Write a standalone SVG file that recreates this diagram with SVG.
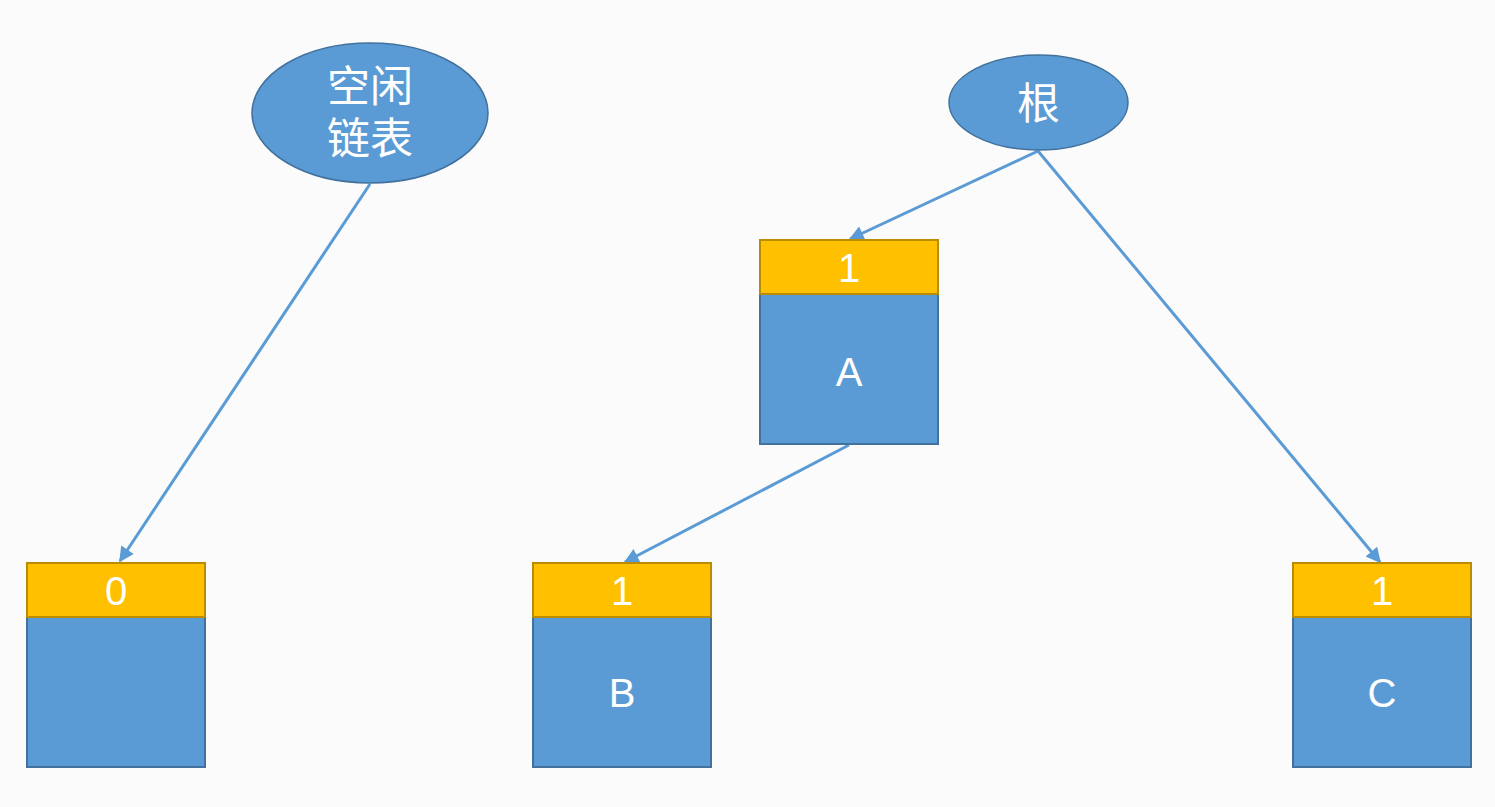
<svg xmlns="http://www.w3.org/2000/svg" width="1495" height="807" viewBox="0 0 1495 807">
<style>
.ell{fill:#5B9BD5;stroke:#41719C;stroke-width:1.5}
.hdr{fill:#FFC000;stroke:#BC8C00;stroke-width:2}
.body{fill:#5B9BD5;stroke:#41719C;stroke-width:2}
.t{fill:#FFFFFF;font-family:"Liberation Sans","Noto Sans CJK SC",sans-serif;font-size:40px;text-anchor:middle;dominant-baseline:central}
.cjk{font-size:43px}
.c{fill:none;stroke:#5B9BD5;stroke-width:3;marker-end:url(#ah)}
</style>
<defs>
<marker id="ah" viewBox="0 0 10 10" refX="9" refY="5" markerWidth="5.5" markerHeight="5" orient="auto" markerUnits="strokeWidth">
<path d="M0,0 L10,5 L0,10 z" fill="#5B9BD5"/>
</marker>
</defs>
<rect width="1495" height="807" fill="#FBFBFB"/>
<g id="connectors">
<line class="c" x1="370" y1="184" x2="120" y2="561"/>
<line class="c" x1="1038" y1="151" x2="850" y2="239"/>
<line class="c" x1="1038" y1="151" x2="1380" y2="562"/>
<line class="c" x1="849" y1="445" x2="625" y2="562"/>
</g>
<g id="freelist">
<ellipse class="ell" cx="370" cy="113" rx="118" ry="70"/>
<text class="t cjk" x="370" y="87">空闲</text>
<text class="t cjk" x="370" y="139">链表</text>
</g>
<g id="root">
<ellipse class="ell" cx="1038.5" cy="102.5" rx="89.5" ry="47.5"/>
<text class="t cjk" x="1038.5" y="104">根</text>
</g>
<g id="nodeA">
<rect class="body" x="760" y="294" width="178" height="150"/>
<rect class="hdr" x="760" y="240" width="178" height="54"/>
<text class="t" x="849" y="268">1</text>
<text class="t" x="849" y="372">A</text>
</g>
<g id="node0">
<rect class="body" x="27" y="617" width="178" height="150"/>
<rect class="hdr" x="27" y="563" width="178" height="54"/>
<text class="t" x="116" y="591">0</text>
</g>
<g id="nodeB">
<rect class="body" x="533" y="617" width="178" height="150"/>
<rect class="hdr" x="533" y="563" width="178" height="54"/>
<text class="t" x="622" y="591">1</text>
<text class="t" x="622" y="693">B</text>
</g>
<g id="nodeC">
<rect class="body" x="1293" y="617" width="178" height="150"/>
<rect class="hdr" x="1293" y="563" width="178" height="54"/>
<text class="t" x="1382" y="591">1</text>
<text class="t" x="1382" y="693">C</text>
</g>
</svg>
